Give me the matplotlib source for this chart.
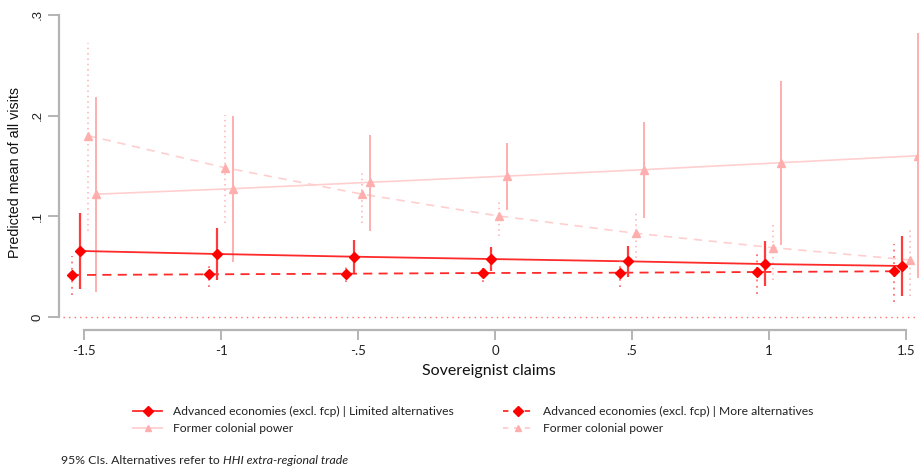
import matplotlib
matplotlib.use("Agg")
import matplotlib.pyplot as plt
from matplotlib.lines import Line2D
import numpy as np

# Sovereignist claims values at which predictions are evaluated
claims = [-1.5, -1.0, -0.5, 0.0, 0.5, 1.0, 1.5]
tick_labels = ["-1.5", "-1", "-.5", "0", ".5", "1", "1.5"]

# Advanced economies (excl. fcp) | Limited alternatives
ae_lim = [0.0656, 0.0626, 0.0599, 0.0576, 0.0553, 0.0526, 0.0507]
ae_lim_lo = [0.0275, 0.0368, 0.0434, 0.0460, 0.0400, 0.0308, 0.0212]
ae_lim_hi = [0.1036, 0.0887, 0.0768, 0.0692, 0.0705, 0.0752, 0.0805]

# Former colonial power | Limited alternatives
fcp_lim = [0.1220, 0.1275, 0.1338, 0.1400, 0.1464, 0.1533, 0.1602]
fcp_lim_lo = [0.0251, 0.0550, 0.0858, 0.1063, 0.0980, 0.0715, 0.0384]
fcp_lim_hi = [0.2188, 0.1994, 0.1808, 0.1725, 0.1940, 0.2344, 0.2818]

# Advanced economies (excl. fcp) | More alternatives
ae_more = [0.0417, 0.0424, 0.0430, 0.0437, 0.0440, 0.0447, 0.0454]
ae_more_lo = [0.0219, 0.0295, 0.0350, 0.0350, 0.0295, 0.0225, 0.0152]
ae_more_hi = [0.0606, 0.0533, 0.0500, 0.0490, 0.0590, 0.0666, 0.0725]

# Former colonial power | More alternatives
fcp_more = [0.1801, 0.1483, 0.1220, 0.1003, 0.0831, 0.0689, 0.0566]
fcp_more_lo = [0.0858, 0.0937, 0.0937, 0.0805, 0.0583, 0.0368, 0.0212]
fcp_more_hi = [0.2719, 0.2007, 0.1460, 0.1152, 0.1063, 0.0947, 0.0871]

RED = "#ff0000"
RED_LINE = "#ff2a2a"
RED_CI = "#ff3b3b"
RED_DOT = "#ff6e6e"
PINK_MK = "#ffaeae"
PINK_LINE = "#ffcfcf"
PINK_CI = "#ff9a9a"
PINK_DOT = "#ffb0b0"
GRID_GREY = "#b4b4b4"

SANS = ["Lato", "DejaVu Sans"]

W, H = 919, 468
fig = plt.figure(figsize=(W / 100, H / 100), dpi=100)

# axes frame in pixels: left 59, right 919, top 15, bottom 330
left_px, right_px, top_px, bot_px = 59, 919, 15, 330
ax = fig.add_axes([left_px / W, 1 - bot_px / H, (right_px - left_px) / W, (bot_px - top_px) / H])

px_per_unit_x = 274.0
px_per_unit_y = 1006.7
ax.set_xlim(-1.5 - (84 - left_px) / px_per_unit_x, -1.5 - (84 - right_px) / px_per_unit_x)
ax.set_ylim(-(bot_px - 317) / px_per_unit_y, 0.3)

x = np.array(claims)
off = [-0.045, -0.015, 0.015, 0.045]

# zero reference line
ax.axhline(0, xmin=(63 - left_px) / (right_px - left_px), color=RED_DOT, lw=1.0,
           ls=(0, (1, 3)), zorder=1)

# fitted lines
ax.plot(x + off[3], fcp_lim, color=PINK_LINE, lw=1.2, zorder=2)
ax.plot(x + off[2], fcp_more, color=PINK_LINE, lw=1.2, ls=(0, (5, 4)), zorder=2)
ax.plot(x + off[1], ae_lim, color=RED_LINE, lw=1.3, zorder=3)
ax.plot(x + off[0], ae_more, color=RED_LINE, lw=1.3, ls=(0, (5, 3.5)), zorder=3)

# confidence intervals
ax.vlines(x + off[3], fcp_lim_lo, fcp_lim_hi, color=PINK_CI, lw=1.1, zorder=2)
ax.vlines(x + off[2], fcp_more_lo, fcp_more_hi, color=PINK_DOT, lw=1.1,
          linestyles=(0, (1, 2.5)), zorder=2)
ax.vlines(x + off[1], ae_lim_lo, ae_lim_hi, color=RED_CI, lw=1.6, zorder=3)
ax.vlines(x + off[0], ae_more_lo, ae_more_hi, color=RED_DOT, lw=1.3,
          linestyles=(0, (1, 2.5)), zorder=3)

# point estimates
ax.plot(x + off[3], fcp_lim, ls="none", marker="^", ms=5.5, color=PINK_MK, mec=PINK_MK, zorder=4)
ax.plot(x + off[2], fcp_more, ls="none", marker="^", ms=5.5, color=PINK_MK, mec=PINK_MK, zorder=4)
ax.plot(x + off[1], ae_lim, ls="none", marker="D", ms=5.2, color=RED, mec=RED, zorder=5)
ax.plot(x + off[0], ae_more, ls="none", marker="D", ms=5.2, color=RED, mec=RED, zorder=5)

# axes styling
for s in ("top", "right"):
    ax.spines[s].set_visible(False)
ax.spines["left"].set_bounds(0, 0.3)
ax.spines["bottom"].set_bounds(-1.5, 1.5)
for s in ("left", "bottom"):
    ax.spines[s].set_color(GRID_GREY)
    ax.spines[s].set_linewidth(1.6)

ax.set_yticks([0, 0.1, 0.2, 0.3])
ax.set_yticklabels(["0", ".1", ".2", ".3"], rotation=90, va="center",
                   family=["Liberation Sans", "DejaVu Sans"], fontsize=9.5, color="#222222")
ax.set_xticks(claims)
ax.set_xticklabels(tick_labels, family=SANS, fontsize=9.5, color="#222222")
ax.tick_params(axis="both", color=GRID_GREY, width=1.4, length=8, pad=3)
ax.tick_params(axis="x", length=7, pad=4)

ax.set_ylabel("Predicted mean of all visits", family=["Liberation Sans", "DejaVu Sans"],
              fontsize=10.3, color="#111111", labelpad=7)
ax.set_xlabel("Sovereignist claims", family=SANS, fontsize=11.5, color="#111111", labelpad=5)


def handle(color, ls, marker, mcolor, ms):
    return Line2D([], [], color=color, ls=ls, lw=1.3, marker=marker, ms=ms,
                  mfc=mcolor, mec=mcolor)


h_ae_lim = handle(RED_LINE, "-", "D", RED, 5)
h_fcp_lim = handle(PINK_LINE, "-", "^", PINK_MK, 5)
h_ae_more = handle(RED_LINE, (0, (3, 3)), "D", RED, 5)
h_fcp_more = handle(PINK_LINE, (0, (3, 3)), "^", PINK_MK, 5)

leg_kw = dict(frameon=False, prop={"family": SANS, "size": 8.7}, handlelength=2.4,
              handletextpad=0.9, labelspacing=0.5, borderaxespad=0, borderpad=0,
              loc="upper left")
leg1 = fig.legend([h_ae_lim, h_fcp_lim],
                  ["Advanced economies (excl. fcp) | Limited alternatives", "Former colonial power"],
                  bbox_to_anchor=(133 / W, 1 - 406 / H), **leg_kw)
leg2 = fig.legend([h_ae_more, h_fcp_more],
                  ["Advanced economies (excl. fcp) | More alternatives", "Former colonial power"],
                  bbox_to_anchor=(503 / W, 1 - 406 / H), **leg_kw)
for lg in (leg1, leg2):
    for t in lg.get_texts():
        t.set_color("#222222")

# footnote with italic variable name
note = fig.text(61 / W, 1 - 460 / H, "95% CIs. Alternatives refer to ", family=SANS,
                fontsize=8.8, color="#222222", va="center", ha="left")
ax.annotate("HHI extra-regional trade", xy=(1, 0.5), xycoords=note, va="center", ha="left",
            family=SANS, fontsize=8.8, style="italic", color="#222222",
            annotation_clip=False)

fig.savefig("out.png", dpi=100)
